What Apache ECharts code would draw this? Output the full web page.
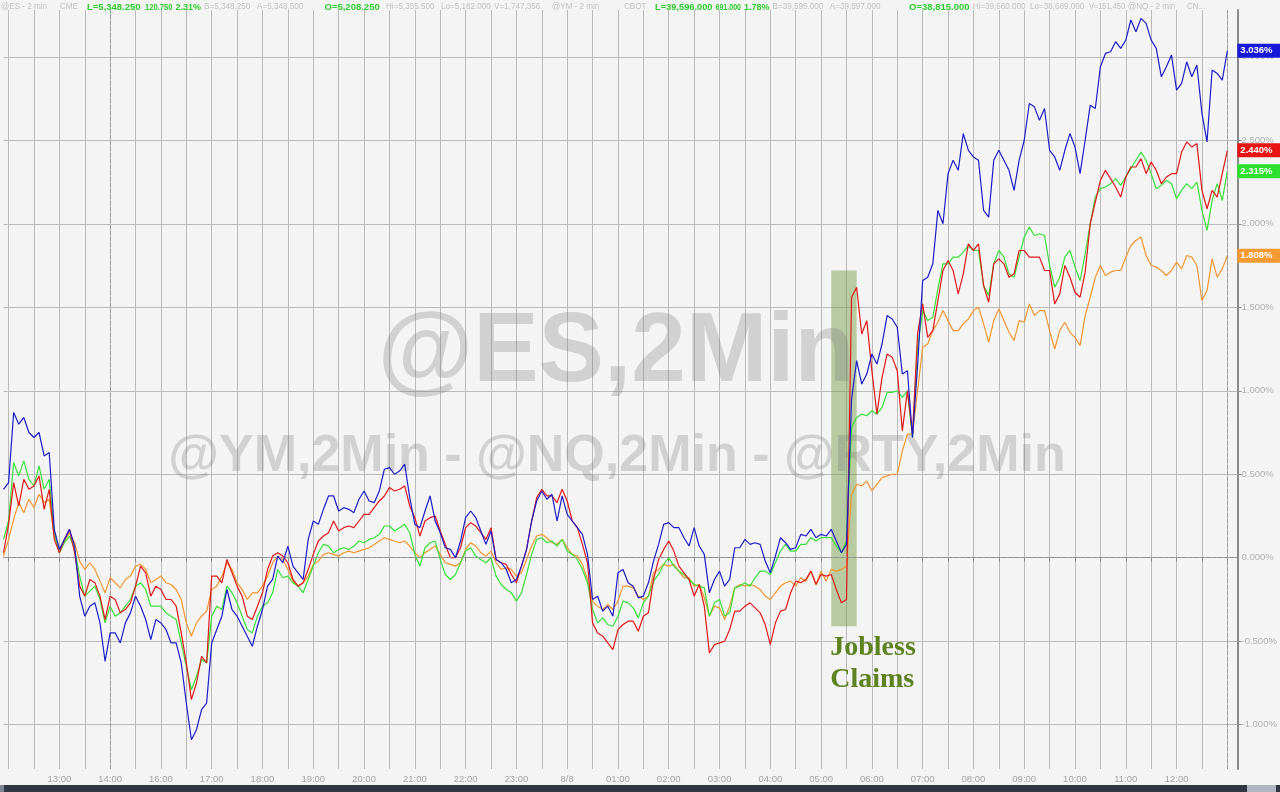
<!DOCTYPE html>
<html><head><meta charset="utf-8">
<script src="https://cdn.jsdelivr.net/npm/echarts@6/dist/echarts.min.js"></script>
<style>html,body{margin:0;padding:0;background:#f4f4f4;}#c{width:1280px;height:792px;}</style>
</head><body><div id="c"></div>
<script>
// ---------------- DATA ----------------
const seriesNames = ['NQ', 'RTY', 'ES', 'YM'];
const lastValues = [3.036, 2.440, 2.315, 1.808];
const nq = [
0.41,0.45,0.87,0.80,0.84,0.75,0.72,0.75,0.61,0.63,
0.17,0.05,0.11,0.17,0.07,-0.23,-0.35,-0.29,-0.27,-0.39,
-0.62,-0.45,-0.45,-0.51,-0.39,-0.33,-0.23,-0.29,-0.37,-0.49,
-0.37,-0.39,-0.43,-0.51,-0.51,-0.63,-0.87,-1.09,-1.03,-0.91,
-0.87,-0.51,-0.43,-0.35,-0.19,-0.31,-0.35,-0.41,-0.47,-0.53,
-0.41,-0.31,-0.17,-0.13,0.01,-0.03,0.07,-0.05,-0.09,-0.13,
0.11,0.22,0.20,0.29,0.37,0.37,0.28,0.30,0.29,0.27,
0.35,0.40,0.34,0.33,0.40,0.53,0.54,0.50,0.52,0.56,
0.36,0.20,0.18,0.28,0.37,0.22,0.15,0.06,0.05,0.00,
0.10,0.24,0.28,0.24,0.16,0.08,0.16,-0.01,-0.03,-0.07,
-0.15,-0.13,-0.05,0.05,0.22,0.34,0.40,0.35,0.38,0.22,
0.37,0.26,0.22,0.18,0.14,0.02,-0.25,-0.23,-0.32,-0.29,
-0.35,-0.09,-0.07,-0.15,-0.17,-0.24,-0.23,-0.15,-0.02,0.08,
0.20,0.21,0.18,0.18,0.12,0.07,0.18,0.07,0.02,-0.21,
-0.13,-0.08,-0.17,-0.13,0.06,0.06,0.11,0.08,0.09,0.08,
-0.02,-0.09,0.01,0.12,0.09,0.05,0.06,0.14,0.13,0.17,
0.12,0.14,0.13,0.17,0.10,0.03,0.08,0.95,1.18,1.04,
1.10,1.22,1.16,1.28,1.45,1.43,1.38,1.10,1.12,0.72,
1.15,1.66,1.68,1.76,2.08,2.00,2.30,2.38,2.32,2.54,
2.44,2.40,2.38,2.08,2.04,2.38,2.44,2.38,2.32,2.20,
2.38,2.50,2.72,2.70,2.62,2.69,2.44,2.40,2.32,2.44,
2.54,2.46,2.30,2.50,2.71,2.69,2.94,3.02,3.03,3.09,
3.05,3.10,3.22,3.15,3.23,3.20,3.10,3.05,2.88,2.94,
3.01,2.80,2.84,2.97,2.88,2.95,2.66,2.49,2.92,2.90,
2.86,3.036];
const rty = [
0.03,0.20,0.45,0.31,0.47,0.41,0.43,0.49,0.29,0.41,
0.11,0.03,0.11,0.17,0.03,-0.17,-0.23,-0.13,-0.15,-0.23,
-0.37,-0.23,-0.25,-0.33,-0.31,-0.27,-0.17,-0.05,-0.09,-0.23,
-0.17,-0.19,-0.25,-0.25,-0.29,-0.45,-0.63,-0.85,-0.75,-0.59,
-0.63,-0.11,-0.11,-0.15,-0.01,-0.09,-0.17,-0.23,-0.35,-0.37,
-0.29,-0.21,-0.07,0.01,0.03,0.01,-0.03,-0.13,-0.17,-0.15,
-0.07,0.02,0.10,0.13,0.15,0.22,0.16,0.18,0.19,0.18,
0.22,0.26,0.26,0.30,0.34,0.37,0.42,0.40,0.41,0.43,
0.31,0.24,0.13,0.22,0.24,0.25,0.16,0.08,0.00,0.00,
0.06,0.18,0.21,0.19,0.15,0.11,0.18,-0.01,-0.03,-0.04,
-0.10,-0.15,-0.05,0.05,0.22,0.36,0.41,0.37,0.37,0.33,
0.41,0.34,0.22,0.18,0.08,-0.03,-0.39,-0.45,-0.47,-0.51,
-0.55,-0.43,-0.40,-0.38,-0.38,-0.44,-0.35,-0.33,-0.13,-0.01,
0.05,0.10,0.04,-0.05,-0.09,-0.13,-0.23,-0.16,-0.29,-0.57,
-0.52,-0.51,-0.50,-0.43,-0.32,-0.32,-0.29,-0.27,-0.30,-0.33,
-0.40,-0.52,-0.39,-0.32,-0.31,-0.21,-0.14,-0.15,-0.13,-0.08,
-0.16,-0.10,-0.11,-0.10,-0.19,-0.27,-0.25,1.56,1.62,1.34,
1.42,1.12,0.86,1.08,1.22,1.20,1.12,0.76,1.00,0.74,
1.34,1.52,1.32,1.36,1.54,1.72,1.78,1.72,1.58,1.70,
1.88,1.84,1.88,1.63,1.53,1.76,1.79,1.76,1.68,1.70,
1.84,1.84,1.80,1.80,1.80,1.72,1.72,1.52,1.58,1.75,
1.68,1.59,1.56,1.71,2.00,2.13,2.26,2.32,2.27,2.22,
2.16,2.28,2.34,2.34,2.39,2.30,2.37,2.32,2.24,2.28,
2.30,2.30,2.43,2.49,2.46,2.48,2.20,2.09,2.20,2.16,
2.30,2.440];
const es = [
0.11,0.22,0.57,0.49,0.58,0.47,0.43,0.55,0.41,0.47,
0.15,0.03,0.09,0.13,0.05,-0.11,-0.23,-0.20,-0.17,-0.25,
-0.39,-0.29,-0.35,-0.33,-0.29,-0.25,-0.17,-0.15,-0.19,-0.29,
-0.29,-0.29,-0.33,-0.35,-0.37,-0.51,-0.65,-0.79,-0.71,-0.61,
-0.63,-0.35,-0.29,-0.31,-0.17,-0.21,-0.27,-0.35,-0.43,-0.45,
-0.35,-0.29,-0.27,-0.21,-0.07,-0.12,-0.11,-0.15,-0.17,-0.21,
-0.13,-0.05,0.03,0.08,0.07,0.03,0.05,0.06,0.05,0.07,
0.10,0.09,0.11,0.12,0.14,0.19,0.19,0.16,0.18,0.20,
0.15,0.02,-0.05,0.06,0.09,0.10,-0.01,-0.10,-0.13,-0.10,
-0.03,0.04,0.06,0.01,-0.01,-0.03,0.00,-0.11,-0.16,-0.19,
-0.21,-0.26,-0.21,-0.10,0.02,0.11,0.12,0.09,0.10,0.07,
0.11,0.04,0.02,-0.01,-0.07,-0.15,-0.31,-0.39,-0.36,-0.40,
-0.41,-0.35,-0.26,-0.27,-0.30,-0.36,-0.27,-0.23,-0.14,-0.10,
-0.04,0.00,-0.05,-0.08,-0.10,-0.13,-0.16,-0.17,-0.18,-0.35,
-0.27,-0.25,-0.35,-0.33,-0.18,-0.17,-0.15,-0.17,-0.12,-0.08,
-0.08,-0.10,-0.03,0.04,0.08,0.04,0.04,0.08,0.08,0.12,
0.10,0.12,0.12,0.12,0.07,0.03,0.10,0.78,0.84,0.86,
0.85,0.88,0.86,0.90,0.99,0.99,1.00,0.96,1.00,0.72,
1.26,1.48,1.42,1.44,1.61,1.76,1.76,1.80,1.80,1.83,
1.87,1.84,1.84,1.63,1.57,1.76,1.84,1.80,1.70,1.68,
1.80,1.92,1.98,1.93,1.94,1.93,1.75,1.62,1.68,1.80,
1.84,1.74,1.66,1.82,2.00,2.16,2.21,2.22,2.24,2.27,
2.23,2.28,2.33,2.38,2.43,2.38,2.30,2.21,2.23,2.26,
2.24,2.15,2.20,2.24,2.21,2.25,2.08,1.96,2.14,2.24,
2.14,2.315];
const ym = [
0.01,0.11,0.23,0.33,0.27,0.35,0.30,0.38,0.33,0.35,
0.13,0.05,0.10,0.15,0.09,-0.02,-0.07,-0.03,-0.07,-0.14,
-0.21,-0.12,-0.15,-0.18,-0.13,-0.11,-0.05,-0.04,-0.07,-0.15,
-0.13,-0.11,-0.15,-0.16,-0.19,-0.25,-0.39,-0.47,-0.39,-0.35,
-0.32,-0.19,-0.17,-0.11,-0.03,-0.07,-0.15,-0.19,-0.25,-0.21,
-0.21,-0.17,-0.11,-0.03,0.01,-0.01,-0.07,-0.14,-0.17,-0.15,
-0.11,-0.04,-0.02,0.02,0.03,0.02,0.01,0.03,0.04,0.03,
0.04,0.05,0.06,0.08,0.10,0.12,0.11,0.10,0.09,0.10,
0.07,0.03,0.00,0.03,0.05,0.07,0.02,-0.03,-0.04,-0.05,
-0.03,0.05,0.09,0.07,0.03,0.01,0.04,-0.03,-0.07,-0.06,
-0.07,-0.11,-0.09,-0.01,0.07,0.13,0.14,0.12,0.09,0.08,
0.11,0.06,0.02,0.01,-0.04,-0.13,-0.26,-0.29,-0.31,-0.28,
-0.31,-0.26,-0.17,-0.17,-0.18,-0.23,-0.25,-0.23,-0.09,-0.07,
-0.04,-0.05,-0.04,-0.08,-0.12,-0.12,-0.17,-0.16,-0.24,-0.35,
-0.29,-0.30,-0.37,-0.29,-0.18,-0.16,-0.17,-0.16,-0.17,-0.19,
-0.23,-0.25,-0.21,-0.17,-0.15,-0.14,-0.17,-0.12,-0.14,-0.08,
-0.16,-0.08,-0.14,-0.07,-0.08,-0.07,-0.05,0.38,0.44,0.43,
0.46,0.40,0.44,0.48,0.49,0.50,0.50,0.64,0.74,0.74,
1.00,1.26,1.28,1.36,1.41,1.48,1.42,1.36,1.36,1.40,
1.43,1.48,1.50,1.40,1.29,1.42,1.49,1.42,1.35,1.30,
1.42,1.41,1.52,1.45,1.48,1.48,1.36,1.25,1.36,1.41,
1.35,1.32,1.27,1.45,1.56,1.68,1.75,1.69,1.71,1.72,
1.72,1.80,1.87,1.90,1.92,1.81,1.75,1.74,1.72,1.69,
1.72,1.77,1.73,1.81,1.80,1.75,1.54,1.60,1.79,1.68,
1.73,1.808];
const yTickValues = [-1, -0.5, 0, 0.5, 1, 1.5, 2, 2.5, 3];
const sessionMarks = ['13:00', '14:00'];
const jobless = { from: '05:12', to: '05:42', top: 1.72, bottom: -0.41, text: ['Jobless', 'Claims'] };
const watermark1 = '@ES,2Min';
const watermark2 = '@YM,2Min - @NQ,2Min - @RTY,2Min';
const headerTexts = [
 ['@ES - 2 min', 0], ['CME', 0], ['L=5,348.250', 1], ['120.750', 1], ['2.31%', 1],
 ['B=5,348.250', 0], ['A=5,348.500', 0], ['O=5,208.250', 1], ['Hi=5,355.500', 0],
 ['Lo=5,182.000', 0], ['V=1,747,356', 0], ['@YM - 2 min', 0], ['CBOT', 0],
 ['L=39,596.000', 1], ['691.000', 1], ['1.78%', 1], ['B=39,595.000', 0],
 ['A=39,597.000', 0], ['O=38,815.000', 1], ['Hi=39,660.000', 0], ['Lo=38,689.000', 0],
 ['V=151,450', 0], ['@NQ - 2 min', 0], ['CN...', 0]
];

// ---------------- CATEGORIES (6-minute slots, 15:00-16:00 break skipped) ----------------
const categories = [];
(function () {
  let m = 11 * 60 + 54;
  for (let i = 0; i < 244; i++) {
    const mm = m % 1440, h = Math.floor(mm / 60), mi = mm % 60;
    categories.push((m >= 1440 && mm === 0) ? '8/8' :
      String(h).padStart(2, '0') + ':' + String(mi).padStart(2, '0'));
    m += 6;
    if (m === 15 * 60) m = 16 * 60;
  }
})();

// ---------------- LAYOUT / STYLE ----------------
const headerX = [1, 60, 87, 145, 175.5, 204, 257, 324.5, 386, 441, 494, 552, 624, 655, 715.5, 744,
  772.6, 829.8, 909, 972.6, 1030, 1089, 1128, 1187, 1232];
const colors = { NQ: '#1c1cc8', RTY: '#e01818', ES: '#38e038', YM: '#f0962e' };
const badge = { NQ: '#1818d8', RTY: '#e81414', ES: '#2ee02e', YM: '#f39a32' };
const FONT = '"Liberation Sans", Arial, sans-serif';

const chart = echarts.init(document.getElementById('c'));

function mk(name, data, z) {
  return {
    name, type: 'line', data, symbol: 'none', z, animation: false, silent: true,
    lineStyle: { color: colors[name], width: 1.2 }, itemStyle: { color: colors[name] },
    emphasis: { disabled: true },
    endLabel: {
      show: true, distance: 10, formatter: p => Number(p.value).toFixed(3) + '%',
      color: '#ffffff', backgroundColor: badge[name], fontSize: 9.5, fontWeight: 'bold',
      fontFamily: FONT, padding: [2, 12, 1, 3], lineHeight: 11
    }
  };
}

const sYM = mk('YM', ym, 2);
sYM.markLine = {
  silent: true, symbol: ['none', 'none'], label: { show: false },
  lineStyle: { type: 'dashed', color: '#9a9a9a', width: 1 },
  data: sessionMarks.map(c => ({ xAxis: c })).concat([{ yAxis: 0 }])
};
const sES = mk('ES', es, 3);
sES.markArea = {
  silent: true, itemStyle: { color: 'rgba(110,150,60,0.45)' },
  data: [[{ xAxis: jobless.from, yAxis: jobless.top }, { xAxis: jobless.to, yAxis: jobless.bottom }]]
};

chart.setOption({
  animation: false,
  backgroundColor: '#f4f4f4',
  grid: { left: 3.5, right: 42.5, top: 10, bottom: 23, outerBoundsMode: 'none', containLabel: false },
  xAxis: {
    type: 'category', data: categories, boundaryGap: false,
    axisLine: { show: true, lineStyle: { color: '#8a8a8a', width: 1 } },
    axisTick: { show: true, interval: (i) => i % 5 === 1, length: 4, lineStyle: { color: '#8a8a8a' } },
    axisLabel: { interval: (i) => i % 10 === 1 && i >= 11 && i <= 231, color: '#a4a4a4', fontSize: 9.5,
      fontFamily: FONT, margin: 5 },
    splitLine: { show: true, interval: (i) => i % 5 === 1, lineStyle: { color: '#bababa', width: 1 } }
  },
  yAxis: {
    type: 'value', position: 'right', min: -1.265, max: 3.28, scale: true,
    axisLine: { show: true, lineStyle: { color: '#8a8a8a', width: 2 } },
    axisTick: { show: true, length: 4, customValues: yTickValues.filter(v => v !== 0), lineStyle: { color: '#8a8a8a' } },
    axisLabel: { customValues: yTickValues, formatter: v => v.toFixed(3) + '%', color: '#b0b0b0', fontSize: 9.5,
      fontFamily: FONT, margin: 4 },
    splitLine: { show: true, lineStyle: { color: '#bababa', width: 1 } }
  },
  series: [sYM, sES, mk('RTY', rty, 4), mk('NQ', nq, 5)]
});

// ---------------- GRAPHIC (watermarks, annotation, header, bottom bar) ----------------
const measure = document.createElement('canvas').getContext('2d');
function textWidth(t, font) { measure.font = font; return measure.measureText(t).width; }

const pLow = chart.convertToPixel({ seriesIndex: 1 }, [categories.indexOf(jobless.from), jobless.bottom]);
const g = [];
g.push({ type: 'text', z: 1, silent: true, x: 616, y: 354,
  style: { text: watermark1, font: 'bold 98px ' + FONT, fill: 'rgba(120,120,120,0.28)',
    align: 'center', verticalAlign: 'middle' } });
g.push({ type: 'text', z: 1, silent: true, x: 617, y: 457,
  style: { text: watermark2, font: 'bold 52px ' + FONT, fill: 'rgba(120,120,120,0.28)',
    align: 'center', verticalAlign: 'middle' } });
jobless.text.forEach((t, k) => g.push({ type: 'text', z: 10, silent: true, x: pLow[0] - 1, y: pLow[1] + 22 + 32 * k,
  style: { text: t, font: 'bold 28px "Liberation Serif", "Times New Roman", serif', fill: '#5e8220',
    align: 'left', verticalAlign: 'middle' } }));
headerTexts.forEach((h, k) => {
  const font = (h[1] ? 'bold 9.5px ' : '9px ') + FONT;
  const avail = headerX[k + 1] - headerX[k] - 3;
  const sx = Math.min(h[1] ? 1 : 0.9, avail / textWidth(h[0], font));
  g.push({ type: 'text', z: 10, silent: true, x: headerX[k], y: 7, scaleX: sx,
    style: { text: h[0], font, fill: h[1] ? '#2ecc2e' : '#c2c2c2', align: 'left', verticalAlign: 'middle' } });
});
g.push({ type: 'rect', z: 10, silent: true, shape: { x: 0, y: 785, width: 1280, height: 7 }, style: { fill: '#2f3541' } });
g.push({ type: 'rect', z: 11, silent: true, shape: { x: 0, y: 785, width: 4, height: 7 }, style: { fill: '#7c8696' } });
g.push({ type: 'rect', z: 11, silent: true, shape: { x: 1247, y: 785, width: 29, height: 7 }, style: { fill: '#b0b6bf' } });
chart.setOption({ graphic: g });
</script>
</body></html>
